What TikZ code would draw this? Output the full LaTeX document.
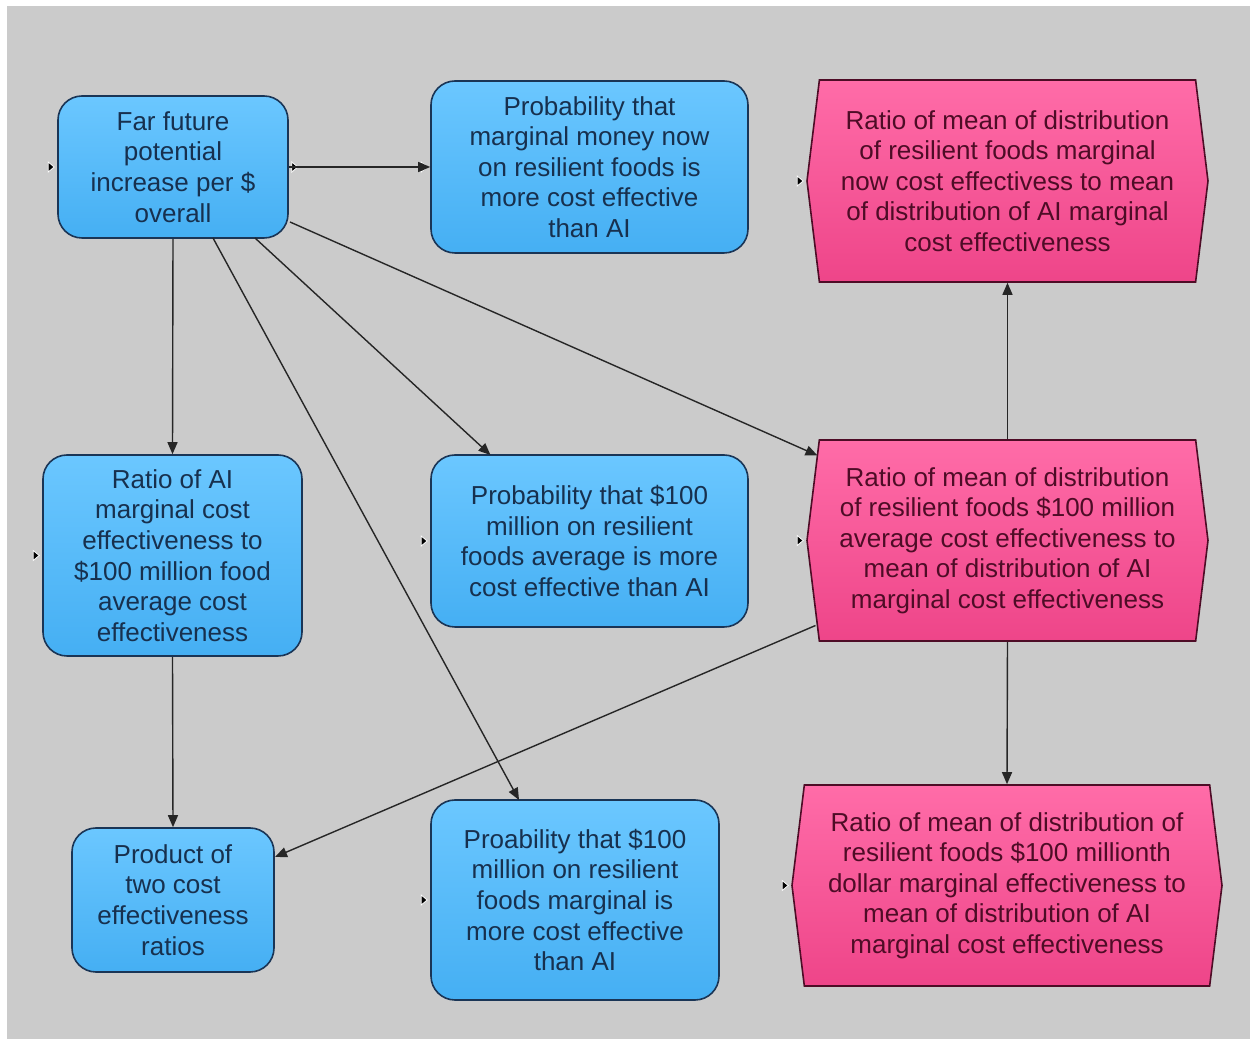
\documentclass[tikz,border=0pt]{standalone}
\usepackage{fontspec}
\setmainfont{Liberation Sans}
\usetikzlibrary{arrows.meta,positioning,calc,shapes.symbols}
\definecolor{panel}{HTML}{CBCBCB}
\definecolor{skytop}{HTML}{6BC7FF}
\definecolor{skybot}{HTML}{45AFF3}
\definecolor{ink}{HTML}{1A3556}
\definecolor{rosetop}{HTML}{FF6CA8}
\definecolor{rosebot}{HTML}{EE4589}
\definecolor{wine}{HTML}{4E0C26}
\tikzset{box/.style={draw=ink,line width=0.8pt,top color=skytop,bottom color=skybot,rounded corners=12pt,align=center,font=\fontsize{13}{15.3}\selectfont,text=ink!90!black,inner sep=2pt},ratio/.style={box,shape=signal,signal to=west and east,signal pointer angle=166,rounded corners=0pt,draw=wine,top color=rosetop,bottom color=rosebot,text=wine},arr/.style={-{Triangle[length=6pt,width=5pt]},line width=0.7pt,draw=black!85},port/.style={fill=black,draw=white,line width=0.4pt}}

\begin{document}
\begin{tikzpicture}[x=0.5pt,y=-0.5pt]
\useasboundingbox (0,0) rectangle (1250,1042);
\fill[panel] (7,6) rectangle (1250,1039);
\node[box,minimum width=115pt,minimum height=71pt] (far) at (173,167) {Far future\\potential\\increase per \$\\overall};
\node[box,minimum width=158.5pt,minimum height=86pt] (pmarg) at (589.5,167) {Probability that\\marginal money now\\on resilient foods is\\more cost effective\\than AI};
\node[ratio,minimum width=200.5pt,minimum height=101pt] (rnow) at (1007.5,181) {Ratio of mean of distribution\\of resilient foods marginal\\now cost effectivess to mean\\of distribution of AI marginal\\cost effectiveness};
\node[box,minimum width=129.5pt,minimum height=100.5pt] (rai) at (172.5,555.5) {Ratio of AI\\marginal cost\\effectiveness to\\\$100 million food\\average cost\\effectiveness};
\node[box,minimum width=158.5pt,minimum height=86pt] (pavg) at (589.5,541) {Probability that \$100\\million on resilient\\foods average is more\\cost effective than AI};
\node[ratio,minimum width=200.5pt,minimum height=100.5pt] (ravg) at (1007.5,540.5) {Ratio of mean of distribution\\of resilient foods \$100 million\\average cost effectiveness to\\mean of distribution of AI\\marginal cost effectiveness};
\node[box,minimum width=101pt,minimum height=72pt] (prod) at (173,900) {Product of\\two cost\\effectiveness\\ratios};
\node[box,minimum width=144pt,minimum height=100pt] (pmil) at (575,900) {Proability that \$100\\million on resilient\\foods marginal is\\more cost effective\\than AI};
\node[ratio,minimum width=215pt,minimum height=100.5pt] (rmil) at (1007,885.5) {Ratio of mean of distribution of\\resilient foods \$100 millionth\\dollar marginal effectiveness to\\mean of distribution of AI\\marginal cost effectiveness};
\foreach \n in {far,pmarg,rnow,rai,pavg,ravg,pmil,rmil} \fill[port] ($(\n.west)+(-9,-5)$) -- ++(6,5) -- ++(-6,5) -- cycle;
\fill[port] ($(far.east)+(3,-5)$) -- ++(6,5) -- ++(-6,5) -- cycle;
\draw[arr] (far.east) -- (pmarg.west);\draw[arr] (far.south) -- (rai.north);\draw[arr] ($(far.center)+(82,71)$) -- ($(pavg.center)+(-99,-86)$);
\draw[arr] ($(far.center)+(40,71)$) -- ($(pmil.center)+(-56,-100)$);\draw[arr] ($(far.center)+(117,55)$) -- ($(ravg.center)+(-190,-85)$);
\draw[arr] ($(ravg.center)+(-192,85)$) -- ($(prod.center)+(102,-43)$);\draw[arr] (ravg.north) -- (rnow.south);\draw[arr] (ravg.south) -- (rmil.north);\draw[arr] (rai.south) -- (prod.north);
\end{tikzpicture}
\end{document}
